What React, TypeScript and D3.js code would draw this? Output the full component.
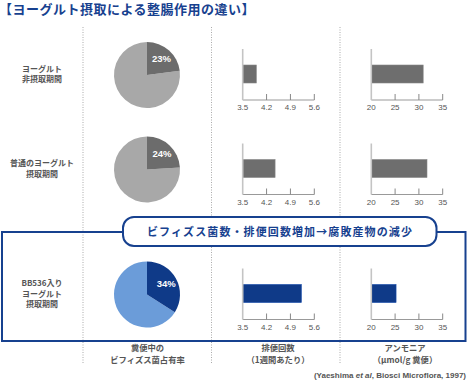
import React from "react";
import * as d3 from "d3";

const rowLabels: string[][] = [
  ["ヨーグルト", "非摂取期間"],
  ["普通のヨーグルト", "摂取期間"],
  ["BB536入り", "ヨーグルト", "摂取期間"],
];
const bifidoShare = [23, 24, 34];
const defecation = [3.9, 4.45, 5.22];
const ammonia = [30.9, 31.7, 25.2];
const defecationTicks = [3.5, 4.2, 4.9, 5.6];
const ammoniaTicks = [20, 25, 30, 35];
const title = "【ヨーグルト摂取による整腸作用の違い】";
const callout = "ビフィズス菌数・排便回数増加→腐敗産物の減少";
const colLabels: string[][] = [
  ["糞便中の", "ビフィズス菌占有率"],
  ["排便回数", "（1週間あたり）"],
  ["アンモニア", "（μmol/g 糞便）"],
];

const W = 469;
const H = 382;
const rowY = [74, 168.5, 293.5];
const pieX = 147;
const pieR = 33;
const BLUE = "#17418f";
const JP = "'Noto Sans CJK JP', 'Noto Sans', sans-serif";
const NUM = "'Liberation Sans', Arial, sans-serif";

const palettes = [
  { light: "#a8a8a8", dark: "#6c6c6c", bar: "#6e6e6e" },
  { light: "#a8a8a8", dark: "#6c6c6c", bar: "#6e6e6e" },
  { light: "#6b9cd9", dark: "#0f3a88", bar: "#0f3a88" },
];

const xDef = d3.scaleLinear().domain([3.5, 5.6]).range([242.7, 314.3]);
const xAmm = d3.scaleLinear().domain([20, 35]).range([371.3, 442.7]);

function BarPanel({ scale, ticks, value, cy, color }: any) {
  const base = cy + 26;
  const top = cy - 25;
  const x0 = scale.range()[0];
  const x1 = scale.range()[1];
  return (
    <g>
      <line x1={x0} x2={x1} y1={base} y2={base} stroke="#999" strokeWidth={1} />
      {ticks.map((t: number, i: number) => (
        <g key={i}>
          {i > 0 && (
            <line x1={scale(t)} x2={scale(t)} y1={base} y2={base - 6} stroke="#888" strokeWidth={1} />
          )}
          <text x={scale(t)} y={base + 10} textAnchor="middle" fontSize={8} fill="#555" fontFamily={NUM}>
            {t}
          </text>
        </g>
      ))}
      <rect
        x={scale.range()[0]}
        y={cy - 9}
        width={scale(value) - scale.range()[0]}
        height={18}
        fill={color}
        stroke={d3.color(color)!.brighter(0.6).toString()}
        strokeWidth={0.6}
      />
      <line x1={x0} x2={x0} y1={top} y2={base} stroke="#c4c4c4" strokeWidth={1.6} />
    </g>
  );
}

export default function App() {
  const pieGen = d3.pie<number>().sort(null).value((d) => d);
  const arcGen = d3.arc<d3.PieArcDatum<number>>().innerRadius(0).outerRadius(pieR);
  return (
    <svg width={W} height={H} style={{ display: "block", position: "absolute", left: 0, top: 0 }}>
      <rect width={W} height={H} fill="#fff" />
      <text x={-1} y={14} fontSize={13} fontWeight="bold" fill={BLUE} fontFamily={JP} letterSpacing={0.5}>
        {title}
      </text>
      {[83, 211.5, 340].map((x, i) => (
        <line key={i} x1={x} x2={x} y1={27} y2={363} stroke="#aaa" strokeWidth={1} strokeDasharray="1,1.5" />
      ))}
      {/* blue box */}
      <path
        d={`M123,232 H2 V341 H465.5 V232 H436`}
        fill="none"
        stroke={BLUE}
        strokeWidth={2}
      />
      <rect x={123} y={217} width={313.5} height={29} rx={11} ry={11} fill="#fff" stroke={BLUE} strokeWidth={2} />
      <text
        x={280}
        y={236}
        textAnchor="middle"
        fontSize={11}
        fontWeight="bold"
        fill={BLUE}
        fontFamily={JP}
        letterSpacing={1.1}
      >
        {callout}
      </text>
      {rowLabels.map((lines, r) => {
        const n = lines.length;
        return (
          <text key={r} textAnchor="middle" fontSize={8} fontWeight="bold" fill="#555" fontFamily={JP}>
            {lines.map((l, i) => (
              <tspan key={i} x={42} y={rowY[r] + (i - (n - 1) / 2) * 10.5 + 3}>
                {l}
              </tspan>
            ))}
          </text>
        );
      })}
      {bifidoShare.map((v, r) => {
        const arcs = pieGen([v, 100 - v]);
        const pal = palettes[r];
        const cy = rowY[r] + 1;
        const a = arcs[0];
        const mid = (a.startAngle + a.endAngle) / 2;
        const lr = 22;
        return (
          <g key={r} transform={`translate(${pieX},${cy})`}>
            <path d={arcGen(arcs[1])!} fill={pal.light} />
            <path d={arcGen(arcs[0])!} fill={pal.dark} />
            <text
              x={Math.sin(mid) * lr}
              y={-Math.cos(mid) * lr + 3.5}
              textAnchor="middle"
              fontSize={9.5}
              fontWeight="bold"
              fill="#fff"
              fontFamily={NUM}
            >
              {v}%
            </text>
          </g>
        );
      })}
      {defecation.map((v, r) => (
        <BarPanel key={"d" + r} scale={xDef} ticks={defecationTicks} value={v} cy={rowY[r]} color={palettes[r].bar} />
      ))}
      {ammonia.map((v, r) => (
        <BarPanel key={"a" + r} scale={xAmm} ticks={ammoniaTicks} value={v} cy={rowY[r]} color={palettes[r].bar} />
      ))}
      {colLabels.map((lines, c) => (
        <text key={c} textAnchor="middle" fontSize={8.3} fontWeight="bold" fill="#555" fontFamily={JP}>
          {lines.map((l, i) => (
            <tspan key={i} x={[147.5, 278, 405][c]} y={351 + i * 12}>
              {l}
            </tspan>
          ))}
        </text>
      ))}
      <text x={466} y={378} textAnchor="end" fontSize={8} fontWeight="bold" fill="#555" fontFamily={NUM}>
        (Yaeshima <tspan fontStyle="italic">et al</tspan>, Biosci Microflora, 1997)
      </text>
    </svg>
  );
}
